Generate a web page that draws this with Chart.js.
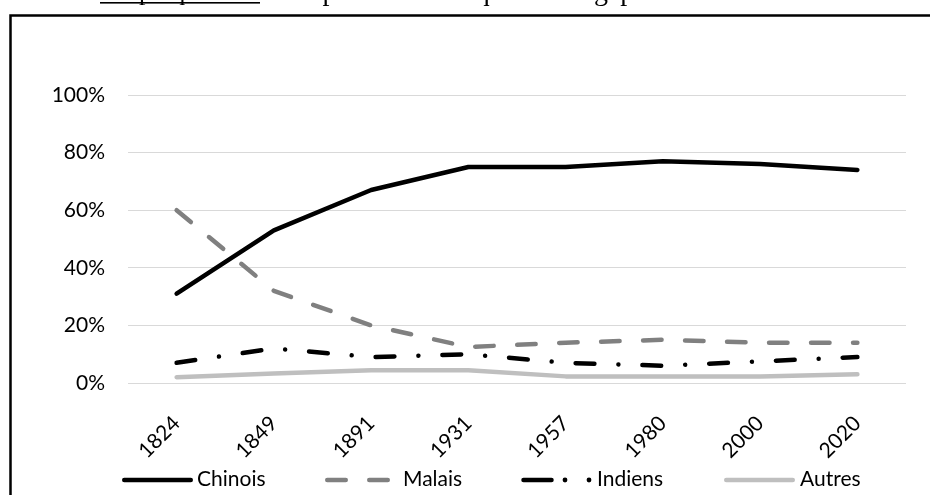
<!DOCTYPE html>
<html><head><meta charset="utf-8">
<script src="https://cdn.jsdelivr.net/npm/chart.js@4"></script>
<style>html,body{margin:0;padding:0;background:#fff}canvas{display:block}</style>
</head><body>
<canvas id="c" width="930" height="495"></canvas>
<script>
const years = ['1824', '1849', '1891', '1931', '1957', '1980', '2000', '2020'];
const chinois = [31, 53, 67, 75, 75, 77, 76, 74];
const malais = [60, 32, 20, 12.5, 14, 15, 14, 14];
const indiens = [7, 12, 9, 10, 7, 6, 7.5, 9];
const autres = [2, 3.3, 4.4, 4.4, 2.3, 2.3, 2.3, 3];
const seriesNames = ['Chinois', 'Malais', 'Indiens', 'Autres'];
const yTickStep = 20;
const titleLead = 'Graphique 1';
const titleRest = 'Composition ethnique de Singapour entre 1824 et 2020';

const FONT = 'Lato';

const decor = {
  id: 'decor',
  afterDraw(chart) {
    const ctx = chart.ctx;
    ctx.save();
    // frame
    ctx.strokeStyle = '#000';
    ctx.lineWidth = 2.5;
    ctx.setLineDash([]);
    ctx.strokeRect(10.5, 15.5, 1000, 1000);
    // cut-off title
    ctx.fillStyle = '#000';
    ctx.textBaseline = 'alphabetic';
    ctx.textAlign = 'left';
    ctx.font = '26px "Liberation Serif"';
    ctx.fillText(titleLead, 100, 0, 160);
    ctx.fillRect(100, 2, 160, 1.6);
    ctx.font = '28px "Liberation Serif"';
    ctx.fillText(titleRest, 268, 0, 625);

    // legend
    const ly = 480;
    const ds = chart.data.datasets;
    ctx.lineCap = 'round';
    ctx.lineWidth = 4.5;
    ctx.font = '21px ' + FONT;
    ctx.textBaseline = 'middle';
    const items = [
      {x0: 124.25, x1: 190.75, tx: 197},
      {x0: 327.25, x1: 388, tx: 403, dash: [18.5, 23.5]},
      {x0: 523.5, x1: 551.5, tx: 597, dots: [565, 589]},
      {x0: 726.25, x1: 792.75, tx: 800}
    ];
    items.forEach((it, i) => {
      const d = ds[i];
      ctx.strokeStyle = d.borderColor;
      ctx.setLineDash(it.dash || []);
      ctx.beginPath();
      ctx.moveTo(it.x0, ly);
      ctx.lineTo(it.x1, ly);
      ctx.stroke();
      ctx.setLineDash([]);
      if (it.dots) {
        ctx.fillStyle = d.borderColor;
        it.dots.forEach(dx => {
          ctx.beginPath();
          ctx.arc(dx, ly, 2.4, 0, Math.PI * 2);
          ctx.fill();
        });
      }
      ctx.fillStyle = '#000';
      ctx.fillText(d.label, it.tx, ly - 1);
    });
    ctx.restore();
  }
};

const common = {borderWidth: 4.5, borderCapStyle: 'round', borderJoinStyle: 'round', pointRadius: 0, fill: false, tension: 0};

new Chart(document.getElementById('c'), {
  type: 'line',
  data: {
    labels: years,
    datasets: [
      Object.assign({label: seriesNames[0], data: chinois, borderColor: '#000000', order: 4}, common),
      Object.assign({label: seriesNames[1], data: malais, borderColor: '#808080', borderDash: [18.5, 23.5], order: 3}, common),
      Object.assign({label: seriesNames[2], data: indiens, borderColor: '#000000', borderDash: [18.8, 24, 0.01, 24], order: 2}, common),
      Object.assign({label: seriesNames[3], data: autres, borderColor: '#bfbfbf', order: 1}, common)
    ]
  },
  options: {
    responsive: false,
    animation: false,
    devicePixelRatio: 1,
    layout: {padding: {top: 95, right: 24, left: 0, bottom: 0}},
    plugins: {legend: {display: false}, title: {display: false}, tooltip: {enabled: false}},
    scales: {
      x: {
        offset: true,
        grid: {display: false, drawTicks: false},
        border: {display: false},
        ticks: {autoSkip: false, minRotation: 45, maxRotation: 45, padding: 28, labelOffset: 0, color: '#000', font: {family: FONT, size: 21}},
        afterFit(s) { s.height = 112; }
      },
      y: {
        min: 0, max: 100,
        grid: {color: '#d9d9d9', lineWidth: 1, drawTicks: false},
        border: {display: false},
        ticks: {stepSize: yTickStep, padding: 23, color: '#000', font: {family: FONT, size: 21}, callback: v => v + '%'},
        afterFit(s) { s.width = 128; }
      }
    }
  },
  plugins: [decor]
});
</script>
</body></html>
